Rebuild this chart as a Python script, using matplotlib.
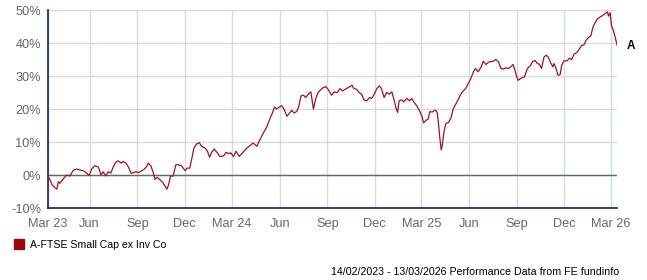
import matplotlib
matplotlib.use('Agg')
import matplotlib.pyplot as plt
import pandas as pd

plt.rcParams['font.family'] = ['Liberation Sans', 'DejaVu Sans']

# Days since the start date and cumulative performance (%)
start_date = '2023-03-13'
end_date = '2026-03-13'
day_offsets = [
    0, 4, 8, 13, 17, 20, 23, 29, 36, 42, 49, 55, 62, 68, 75, 79, 84, 90, 97, 102,
    106, 111, 116, 121, 126, 130, 135, 141, 145, 150, 155, 160, 164, 169, 174, 180, 185,
    190, 193, 198, 203, 206, 210, 216, 221, 225, 229, 232, 236, 241, 246, 251, 257, 264,
    268, 273, 277, 281, 286, 291, 296, 302, 307, 311, 315, 320, 325, 331, 338, 343, 347,
    352, 357, 362, 368, 383, 395, 402, 408, 415, 421, 427, 432, 436, 440, 445, 450, 455,
    460, 464, 469, 474, 479, 483, 487, 492, 496, 501, 506, 511, 515, 520, 526, 530, 535,
    540, 546, 551, 557, 562, 567, 572, 578, 585, 589, 594, 599, 604, 608, 614, 619, 623,
    628, 633, 638, 642, 647, 652, 657, 662, 666, 670, 673, 676, 681, 685, 691, 696, 700,
    705, 710, 715, 720, 723, 728, 732, 735, 740, 745, 749, 751, 754, 757, 759, 762, 766,
    771, 776, 780, 785, 790, 795, 800, 804, 809, 814, 819, 823, 828, 834, 838, 843, 848,
    853, 857, 862, 867, 872, 877, 881, 886, 891, 895, 898, 902, 905, 911, 917, 923, 928,
    933, 938, 942, 946, 950, 955, 959, 963, 968, 972, 974, 978, 982, 986, 989, 993, 999,
    1004, 1008, 1013, 1018, 1023, 1027, 1032, 1036, 1040, 1045, 1049, 1053, 1058, 1063,
    1068, 1072, 1077, 1079, 1082, 1085, 1088, 1092, 1096,
]
perf = [
    -0.3, -1.5, -3.0, -3.8, -4.3, -2.0, -2.5, -1.2, 0.0, -0.3, 1.5, 1.8, 1.5, 1.3, 0.5, -0.2, 1.8, 2.8, 2.4, 0.0,
    1.0, -0.3, 1.0, 0.6, 2.6, 3.8, 4.3, 3.6, 4.1, 3.6, 2.4, 0.5, 0.7, 1.0, 0.7, 1.3, 1.7,
    2.6, 3.6, 2.8, 0.6, -1.3, -0.7, -1.5, -2.3, -3.3, -4.3, -3.0, -0.3, -0.3, 3.1, 3.1, 2.8, 1.3,
    2.1, 2.1, 5.2, 8.2, 9.4, 9.8, 8.7, 8.2, 7.2, 5.4, 6.9, 7.9, 6.9, 5.6, 5.8, 6.9, 6.5,
    6.7, 5.6, 7.2, 5.6, 8.2, 9.7, 8.7, 10.7, 12.9, 14.5, 17.0, 18.8, 20.6, 20.0, 20.6, 21.0, 19.8,
    17.8, 18.6, 19.6, 18.8, 19.3, 20.9, 24.0, 24.2, 23.5, 24.5, 25.2, 20.0, 22.9, 25.0, 26.0, 26.5, 26.8,
    25.8, 24.2, 25.2, 25.0, 26.2, 25.5, 26.0, 26.5, 27.2, 26.2, 26.0, 25.0, 24.5, 22.8, 22.5, 23.5, 23.2,
    24.5, 26.2, 27.0, 26.2, 23.5, 25.0, 24.5, 25.2, 22.9, 20.3, 19.0, 22.5, 22.8, 22.2, 23.2, 22.5, 23.2,
    22.0, 21.0, 19.5, 17.8, 15.8, 16.6, 17.0, 19.2, 19.1, 19.7, 19.1, 16.8, 11.7, 7.6, 8.9, 12.8, 15.7,
    15.9, 17.4, 20.0, 21.5, 23.0, 24.6, 25.6, 26.2, 27.7, 29.2, 31.3, 32.3, 31.3, 32.8, 34.5, 33.5, 34.2,
    34.4, 34.5, 35.0, 34.4, 32.3, 32.1, 32.5, 32.3, 32.8, 33.5, 32.3, 30.0, 28.7, 29.4, 29.7, 32.3, 33.0,
    34.4, 34.7, 33.8, 33.6, 32.3, 35.8, 36.3, 35.8, 33.9, 32.8, 33.8, 32.3, 30.2, 30.5, 33.3, 34.6, 34.6,
    35.4, 35.0, 36.7, 37.1, 38.2, 39.2, 39.5, 40.9, 41.6, 42.2, 44.8, 46.1, 47.4, 47.9,
    48.4, 48.9, 49.4, 48.2, 49.2, 45.1, 44.1, 41.6, 39.2,
]

tick_dates = ['2023-03-13', '2023-06-01', '2023-09-01', '2023-12-01', '2024-03-01', '2024-06-01',
              '2024-09-01', '2024-12-01', '2025-03-01', '2025-06-01', '2025-09-01', '2025-12-01',
              '2026-03-01']
tick_labels = ['Mar 23', 'Jun', 'Sep', 'Dec', 'Mar 24', 'Jun', 'Sep', 'Dec', 'Mar 25', 'Jun',
               'Sep', 'Dec', 'Mar 26']
y_ticks = [-10, 0, 10, 20, 30, 40, 50]

series_name = 'A-FTSE Small Cap ex Inv Co'
footer = '14/02/2023 - 13/03/2026 Performance Data from FE fundinfo'

line_color = '#a3121c'
grid_color = '#cfdde8'
navy = '#0a1f7a'
label_grey = '#666666'

dates = pd.Timestamp(start_date) + pd.to_timedelta(day_offsets, unit='D')

fig = plt.figure(figsize=(6.47, 2.80), dpi=100)
ax = fig.add_axes([0.0742, 0.2571, 0.8799, 0.7069])

ax.set_xlim(pd.Timestamp(start_date), pd.Timestamp(end_date))
ax.set_ylim(-10, 50)

ax.set_xticks(pd.to_datetime(tick_dates))
ax.set_xticklabels(tick_labels)
ax.set_yticks(y_ticks)
ax.set_yticklabels([f'{v}%' for v in y_ticks])

ax.grid(True, color=grid_color, linewidth=1.0)
ax.set_axisbelow(True)
ax.axhline(0, color='#666666', linewidth=1.0, zorder=2)

ax.plot(dates, perf, color=line_color, linewidth=0.9, zorder=3)

for side in ['top', 'right']:
    ax.spines[side].set_visible(False)
ax.spines['left'].set_color(navy)
ax.spines['bottom'].set_color(navy)
ax.spines['left'].set_linewidth(1.2)
ax.spines['bottom'].set_linewidth(1.2)

ax.tick_params(axis='both', length=0, labelsize=9.2, labelcolor=label_grey)
ax.tick_params(axis='x', pad=7)
ax.tick_params(axis='y', pad=5)

# series tag at the end of the line
ax.annotate('A', xy=(1.0, (perf[-1] + 10) / 60), xycoords='axes fraction',
            xytext=(7, 0), textcoords='offset points', fontsize=8.5,
            fontweight='bold', va='center', ha='left')

# legend
fig.patches.append(plt.Rectangle((14 / 647, 1 - 249 / 280), 10 / 647, 10 / 280,
                                 transform=fig.transFigure, color='#9b0a0a', figure=fig))
fig.text(30 / 647, 1 - 244.5 / 280, series_name, fontsize=7.6, va='center', ha='left')

fig.text(619 / 647, 1 - 272 / 280, footer, fontsize=7.7, va='center', ha='right')

fig.savefig('out.png', dpi=100)
